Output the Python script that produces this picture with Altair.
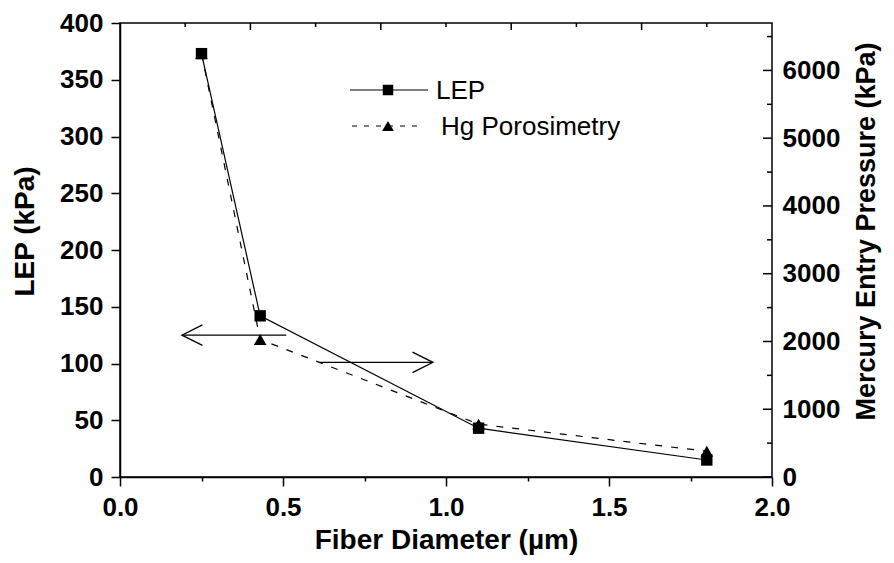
import altair as alt
import pandas as pd

# ---- data ----
diameter = [0.25, 0.43, 1.10, 1.80]
lep_kpa = [373, 142, 43, 15]
hg_kpa = [6250, 2030, 780, 380]

arrow_from = [0.51, 0.61]
arrow_to = [0.19, 0.96]
arrow_lep = [125, 101]
arrow_dir = ["left", "right"]

series_names = ["LEP", "Hg Porosimetry"]

x_tick_values = [0.0, 0.25, 0.5, 0.75, 1.0, 1.25, 1.5, 1.75, 2.0]
top_long_ticks = [0.4, 0.8, 1.2, 1.6]
top_short_ticks = [0.2, 0.6, 1.0, 1.4, 1.8]
lep_tick_values = [0, 25, 50, 75, 100, 125, 150, 175, 200, 225, 250, 275, 300, 325, 350, 375, 400]
hg_label_values = [0, 1000, 2000, 3000, 4000, 5000, 6000]
hg_minor_values = [500, 1500, 2500, 3500, 4500, 5500, 6500]

W, H = 652, 454
FONT = "Liberation Sans"
TICK_FS = 26
TITLE_FS = 28

pts = pd.DataFrame({"d": diameter, "lep": lep_kpa, "hg": hg_kpa})
arrows = pd.DataFrame({"x0": arrow_from, "x1": arrow_to, "y": arrow_lep, "dir": arrow_dir})

x_enc = alt.X("d:Q", scale=alt.Scale(domain=[0, 2], nice=False),
              axis=alt.Axis(values=x_tick_values, format=".1f",
                            labelExpr="datum.value % 0.5 === 0 ? datum.label : ''",
                            tickSize={"condition": {"test": "datum.value % 0.5 === 0", "value": 9}, "value": 4},
                            labelPadding=8, titlePadding=6,
                            title="Fiber Diameter (µm)"))

lep_scale = alt.Scale(domain=[0, 400], nice=False)
hg_scale = alt.Scale(domain=[0, 6700], nice=False)

lep_axis = alt.Axis(values=lep_tick_values, orient="left",
                    labelExpr="datum.value % 50 === 0 ? datum.label : ''",
                    tickSize={"condition": {"test": "datum.value % 50 === 0", "value": 9}, "value": 4},
                    labelPadding=8, titlePadding=20, titleY=208, title="LEP (kPa)")

base = alt.Chart(pts)

lep_line = base.mark_line(color="black", strokeWidth=1.2).encode(
    x=x_enc, y=alt.Y("lep:Q", scale=lep_scale, axis=lep_axis))
lep_pts = base.mark_point(shape="square", filled=True, color="black", size=130, opacity=1).encode(
    x="d:Q", y="lep:Q")

arrow_lines = alt.Chart(arrows).mark_rule(color="black", strokeWidth=1.3).encode(
    x="x0:Q", x2="x1:Q", y="y:Q")
head_left = alt.Chart(arrows).transform_filter("datum.dir == 'left'").mark_point(
    shape="M2,-1L0,0L2,1", filled=False, color="black", size=420, strokeWidth=1.3, opacity=1).encode(
    x="x1:Q", y="y:Q")
head_right = alt.Chart(arrows).transform_filter("datum.dir == 'right'").mark_point(
    shape="M-2,-1L0,0L-2,1", filled=False, color="black", size=420, strokeWidth=1.3, opacity=1).encode(
    x="x1:Q", y="y:Q")

top_long = alt.Chart(pd.DataFrame({"tv": top_long_ticks})).mark_tick(
    color="black", size=7, thickness=1.5, opacity=1).encode(x="tv:Q", y=alt.value(3.5))
top_short = alt.Chart(pd.DataFrame({"tv": top_short_ticks})).mark_tick(
    color="black", size=4, thickness=1.5, opacity=1).encode(x="tv:Q", y=alt.value(2))

# legend (drawn inside the plot)
one = pd.DataFrame({"lab": [series_names[0]]})
two = pd.DataFrame({"lab": [series_names[1]]})
LEG_Y1, LEG_Y2 = 67, 103
leg_lep_line = alt.Chart(one).mark_rule(color="black", strokeWidth=1.2).encode(
    x=alt.value(230), x2=alt.value(308), y=alt.value(LEG_Y1))
leg_lep_pt = alt.Chart(one).mark_point(shape="square", filled=True, color="black", size=110, opacity=1).encode(
    x=alt.value(268), y=alt.value(LEG_Y1))
leg_lep_txt = alt.Chart(one).mark_text(align="left", baseline="middle", font=FONT, fontSize=26,
                                       color="black").encode(
    x=alt.value(316), y=alt.value(LEG_Y1 + 1), text="lab:N")
leg_hg_line = alt.Chart(two).mark_rule(color="black", strokeWidth=1.2, strokeDash=[5, 7]).encode(
    x=alt.value(232), x2=alt.value(304), y=alt.value(LEG_Y2))
leg_hg_pt = alt.Chart(two).mark_point(shape="triangle-up", filled=True, color="black", size=140, opacity=1).encode(
    x=alt.value(268), y=alt.value(LEG_Y2))
leg_hg_txt = alt.Chart(two).mark_text(align="left", baseline="middle", font=FONT, fontSize=26,
                                      color="black").encode(
    x=alt.value(321), y=alt.value(LEG_Y2 + 1), text="lab:N")

lep_layer = alt.layer(lep_line, lep_pts, arrow_lines, head_left, head_right, top_long, top_short,
                      leg_lep_line, leg_lep_pt, leg_lep_txt, leg_hg_line, leg_hg_pt, leg_hg_txt)

hg_axis = alt.Axis(values=hg_label_values, orient="right", ticks=False, domain=False, format="d",
                   labelPadding=10, titlePadding=14, titleAngle=270, titleBaseline="top",
                   titleFontSize=27, titleY=208, title="Mercury Entry Pressure (kPa)")
hg_line = base.mark_line(color="black", strokeWidth=1.2, strokeDash=[7, 9]).encode(
    x="d:Q", y=alt.Y("hg:Q", scale=hg_scale, axis=hg_axis))
hg_pts = base.mark_point(shape="triangle-up", filled=True, color="black", size=160, opacity=1).encode(
    x="d:Q", y="hg:Q")
right_major = alt.Chart(pd.DataFrame({"tv": hg_label_values})).mark_tick(
    color="black", size=9, thickness=1.5, opacity=1).encode(y="tv:Q", x=alt.value(W - 4.5))
right_minor = alt.Chart(pd.DataFrame({"tv": hg_minor_values})).mark_tick(
    color="black", size=5, thickness=1.5, opacity=1).encode(y="tv:Q", x=alt.value(W - 2.5))

hg_layer = alt.layer(hg_line, hg_pts, right_major, right_minor)

chart = alt.layer(lep_layer, hg_layer).resolve_scale(y="independent").properties(
    width=W, height=H, autosize="none",
    padding={"left": 112, "top": 15, "right": 114, "bottom": 80},
).configure_view(stroke="black", strokeWidth=1.5).configure_axis(
    labelFont=FONT, labelFontSize=TICK_FS, labelFontWeight="bold", labelColor="black",
    titleFont=FONT, titleFontSize=TITLE_FS, titleFontWeight="bold", titleColor="black",
    domainColor="black", domainWidth=1.5, tickColor="black", tickWidth=1.5,
    grid=False, labelOverlap=False, labelFlush=False,
)

chart.save("out.html", embed_options={"renderer": "svg", "actions": False})
